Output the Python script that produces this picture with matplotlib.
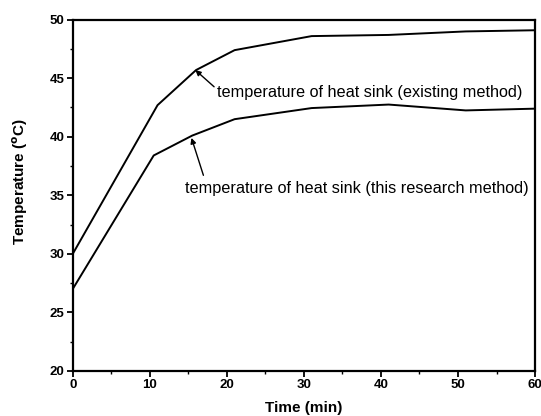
import matplotlib
matplotlib.use("Agg")
import matplotlib.pyplot as plt
from matplotlib.ticker import MultipleLocator

plt.rcParams['font.family'] = ['Liberation Sans', 'DejaVu Sans']

time_existing = [0, 11, 16, 21, 31, 41, 51, 60]
temp_existing = [30.0, 42.7, 45.7, 47.4, 48.6, 48.7, 49.0, 49.1]
time_research = [0, 10.5, 15.5, 21, 31, 41, 51, 60]
temp_research = [27.0, 38.4, 40.1, 41.5, 42.45, 42.75, 42.25, 42.4]

label_existing = "temperature of heat sink (existing method)"
label_research = "temperature of heat sink (this research method)"

fig = plt.figure(figsize=(5.41, 4.16), dpi=100)
ax = fig.add_axes([0.1346, 0.1087, 0.8544, 0.8439])

ax.plot(time_existing, temp_existing, color='black', lw=1.4)
ax.plot(time_research, temp_research, color='black', lw=1.4)

ax.set_xlim(0, 60)
ax.set_ylim(20, 50)
ax.xaxis.set_major_locator(MultipleLocator(10))
ax.xaxis.set_minor_locator(MultipleLocator(5))
ax.yaxis.set_major_locator(MultipleLocator(5))
ax.yaxis.set_minor_locator(MultipleLocator(2.5))
ax.tick_params(which='major', direction='out', length=4, width=1.3, labelsize=9.5, pad=2)
ax.tick_params(which='minor', direction='out', length=2.5, width=1)
for lbl in ax.get_xticklabels() + ax.get_yticklabels():
    lbl.set_fontweight('bold')
for sp in ax.spines.values():
    sp.set_linewidth(1.6)

ax.set_xlabel("Time (min)", fontsize=11, fontweight='bold', labelpad=7)
ax.set_ylabel("Temperature ($\\mathbf{^{o}}$C)", fontsize=11, fontweight='bold')
ax.yaxis.set_label_coords(-0.092, 0.54)

ax.annotate(label_existing, xy=(15.9, 45.7), xytext=(18.7, 43.8),
            fontsize=11.7, va='center', ha='left',
            arrowprops=dict(arrowstyle='-|>', color='black', lw=1, mutation_scale=8,
                            shrinkA=0, shrinkB=0, relpos=(0, 0.7)))
ax.annotate(label_research, xy=(15.4, 39.9), xytext=(14.5, 35.6),
            fontsize=11.7, va='center', ha='left',
            arrowprops=dict(arrowstyle='-|>', color='black', lw=1, mutation_scale=8,
                            shrinkA=2, shrinkB=0, relpos=(0.06, 1.0)))

fig.savefig("out.png", dpi=100)
